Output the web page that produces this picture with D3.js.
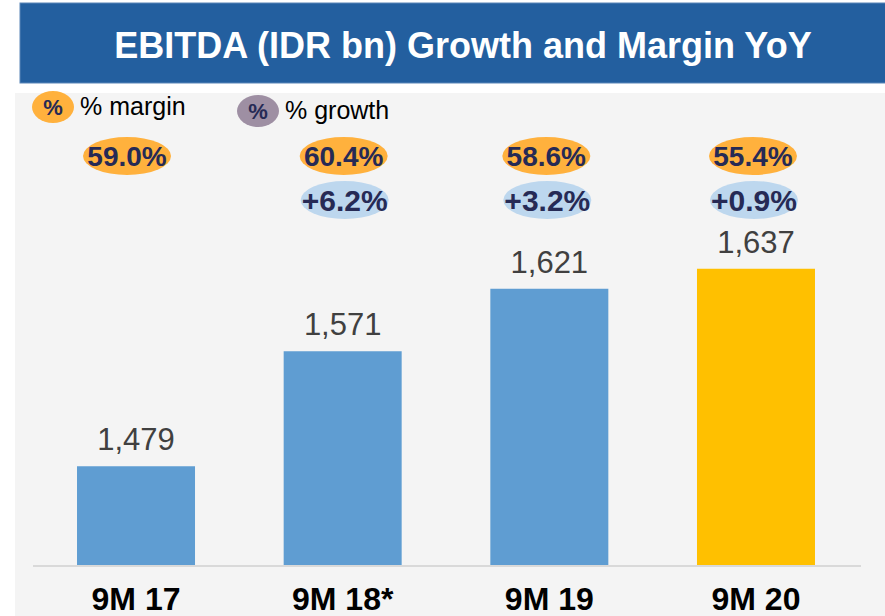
<!DOCTYPE html>
<html><head><meta charset="utf-8">
<script src="https://cdn.jsdelivr.net/npm/d3@7"></script>
<style>body{margin:0;background:#fff;}svg{display:block;font-family:"Liberation Sans",Arial,sans-serif;}</style>
</head><body><svg id="c" width="885" height="616"></svg>
<script>
const categories = ["9M 17", "9M 18*", "9M 19", "9M 20"];
const ebitda = [1479, 1571, 1621, 1637];
const margins = ["59.0%", "60.4%", "58.6%", "55.4%"];
const growth = [null, "+6.2%", "+3.2%", "+0.9%"];
const barColors = ["#5F9DD2", "#5F9DD2", "#5F9DD2", "#FFC000"];
const title = "EBITDA (IDR bn) Growth and Margin YoY";

const svg = d3.select("#c");
// backgrounds
svg.append("rect").attr("x", 15).attr("y", 93).attr("width", 870).attr("height", 523).attr("fill", "#F4F4F4");
svg.append("rect").attr("x", 20).attr("y", 3).attr("width", 866).attr("height", 80).attr("fill", "#235F9F").attr("stroke", "#5B86B8").attr("stroke-width", 1);
svg.append("text").attr("x", 463).attr("y", 58).attr("text-anchor", "middle").attr("fill", "#fff")
  .attr("font-weight", "bold").attr("font-size", 36).text(title);

const x = d3.scaleBand().domain(categories).range([33, 859]).paddingInner(0.429).paddingOuter(0.213);
const y = d3.scaleLinear().domain([1400, 1640]).range([565, 265]);

svg.selectAll("rect.bar").data(ebitda).join("rect").attr("class", "bar")
  .attr("x", (d, i) => x(categories[i])).attr("width", x.bandwidth())
  .attr("y", d => y(d)).attr("height", d => y(1400) - y(d)).attr("fill", (d, i) => barColors[i]);

svg.append("line").attr("x1", 33).attr("x2", 861).attr("y1", 566).attr("y2", 566).attr("stroke", "#D9D9D9").attr("stroke-width", 2);

svg.selectAll("text.val").data(ebitda).join("text").attr("class", "val")
  .attr("x", (d, i) => x(categories[i]) + x.bandwidth() / 2).attr("y", d => y(d) - 16)
  .attr("text-anchor", "middle").attr("font-size", 31).attr("fill", "#404040")
  .text(d => d3.format(",")(d));

const axis = d3.axisBottom(x).tickSize(0).tickPadding(0);
const ag = svg.append("g").attr("transform", "translate(0,566)").call(axis);
ag.select(".domain").remove();
ag.selectAll("text").attr("y", 44).attr("dy", 0).attr("font-size", 32).attr("font-weight", "bold").attr("fill", "#000").attr("font-family", "'Liberation Sans', Arial, sans-serif");

const cx = (i) => x(categories[i]) + x.bandwidth() / 2;
const mOff = [-9, 1, -3, -3];
const mg = svg.selectAll("g.m").data(margins).join("g").attr("class", "m")
  .attr("transform", (d, i) => `translate(${cx(i) + mOff[i]},156)`);
mg.append("ellipse").attr("rx", 44).attr("ry", 19).attr("fill", "#FFB13D");
mg.append("text").attr("y", 10).attr("text-anchor", "middle").attr("font-size", 28).attr("font-weight", "bold").attr("fill", "#262A55").text(d => d);

const gg = svg.selectAll("g.g").data(growth.map((d, i) => ({ d, i })).filter(o => o.d)).join("g").attr("class", "g")
  .attr("transform", o => `translate(${cx(o.i) + mOff[o.i] + 1},200)`);
gg.append("ellipse").attr("rx", 44).attr("ry", 19).attr("fill", "#BDD7EE");
gg.append("text").attr("x", 0).attr("y", 11).attr("text-anchor", "middle").attr("font-size", 30).attr("font-weight", "bold").attr("fill", "#262A55").text(o => o.d);

// legend
const leg = [{ c: "#FFB13D", t: "% margin", x: 53, y: 107 }, { c: "#9E8FA3", t: "% growth", x: 258, y: 111 }];
leg.forEach(l => {
  svg.append("ellipse").attr("cx", l.x).attr("cy", l.y).attr("rx", 21).attr("ry", 16).attr("fill", l.c);
  svg.append("text").attr("x", l.x).attr("y", l.y + 8).attr("text-anchor", "middle").attr("font-size", 22).attr("font-weight", "bold").attr("fill", "#262A55").text("%");
  svg.append("text").attr("x", l.x + 27).attr("y", l.y + 8).attr("font-size", 25).attr("fill", "#000").text(l.t);
});
</script></body></html>
